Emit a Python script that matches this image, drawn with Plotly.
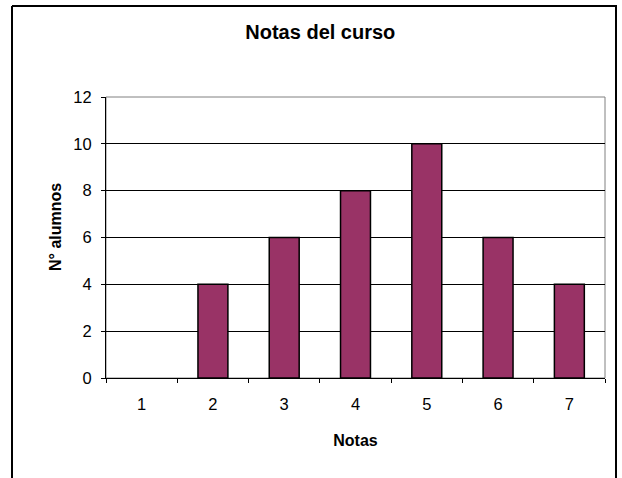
import plotly.graph_objects as go

notas = ["1", "2", "3", "4", "5", "6", "7"]
alumnos = [0, 4, 6, 8, 10, 6, 4]
y_ticks = [0, 2, 4, 6, 8, 10, 12]

fig = go.Figure()
fig.add_trace(go.Bar(
    x=notas, y=alumnos,
    marker=dict(color="#993366",
                line=dict(color="black", width=[0 if v == 0 else 1.5 for v in alumnos])),
))

FONT = "Liberation Sans, Arial, sans-serif"
W, H = 622, 478
L, R, T, B = 106, 17, 97, 100
PW, PH = W - L - R, H - T - B


def px(x):
    return (x - L) / PW


def py(y):
    return (H - B - y) / PH


fig.update_layout(
    width=W, height=H,
    margin=dict(l=L, r=R, t=T, b=B),
    paper_bgcolor="white", plot_bgcolor="white",
    bargap=0.58,
    showlegend=False,
    font=dict(family=FONT, color="black", size=16.5),
    title=dict(text="<b>Notas del curso</b>", x=0.515, xanchor="center",
               y=1 - 32 / H, yanchor="middle", font=dict(size=20, family=FONT)),
    xaxis=dict(
        type="category", tickson="boundaries", ticks="outside", ticklen=4,
        tickcolor="black", showline=True, linecolor="black", linewidth=1,
        showgrid=False, tickfont=dict(size=16.5), ticklabelstandoff=11,
        title=dict(text="<b>Notas</b>", font=dict(size=16), standoff=23),
    ),
    yaxis=dict(
        range=[0, 12], tickvals=y_ticks, ticks="outside", ticklen=4,
        tickcolor="black", showline=True, linecolor="black", linewidth=1,
        showgrid=True, gridcolor="black", gridwidth=1, zeroline=False,
        tickfont=dict(size=16.5), ticklabelstandoff=6,
    ),
    annotations=[
        dict(text="<b>N° alumnos</b>", xref="paper", yref="paper",
             x=px(55), y=py(227), xanchor="center", yanchor="middle",
             textangle=-90, showarrow=False, font=dict(size=16)),
    ],
    shapes=[
        dict(type="rect", xref="paper", yref="paper", x0=0, x1=1, y0=0, y1=1,
             line=dict(color="#808080", width=1), layer="below"),
        dict(type="line", xref="paper", yref="paper",
             x0=px(12), x1=px(617), y0=py(6), y1=py(6),
             line=dict(color="black", width=2)),
        dict(type="line", xref="paper", yref="paper",
             x0=px(12), x1=px(12), y0=py(6), y1=py(490),
             line=dict(color="black", width=2)),
        dict(type="line", xref="paper", yref="paper",
             x0=px(616), x1=px(616), y0=py(6), y1=py(490),
             line=dict(color="black", width=2)),
    ],
)

fig.write_html("out.html", config={"displayModeBar": False},
               post_script="document.body.style.margin='0';")
